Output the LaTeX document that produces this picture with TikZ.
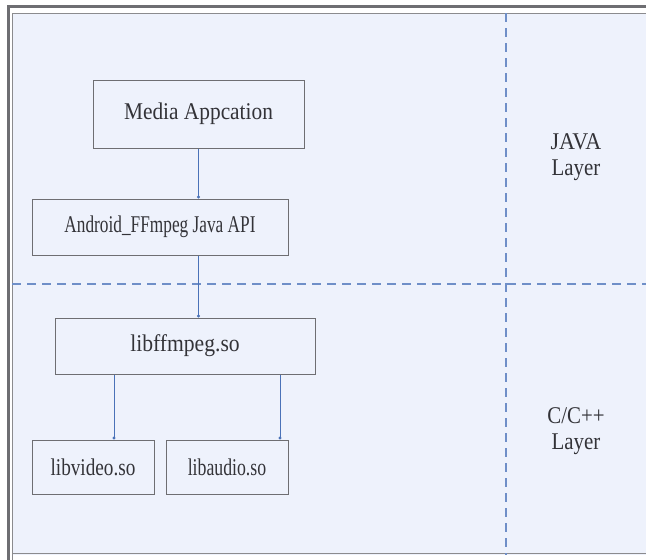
\documentclass[tikz,border=0pt]{standalone}
\usepackage{fontspec}
\usepackage{graphicx}
\setmainfont{Liberation Serif}
\usetikzlibrary{arrows.meta}
\definecolor{bgblue}{HTML}{EEF2FC}
\definecolor{framegray}{HTML}{6E6E72}
\definecolor{dashblue}{HTML}{6F8FC8}
\definecolor{arrowblue}{HTML}{4A72B8}
\definecolor{textgray}{HTML}{333338}
\newcommand{\sqx}[2]{\scalebox{#1}[1]{#2}}
\tikzset{
  box/.style={draw=framegray, line width=1pt, fill=bgblue, text=textgray, font=\fontsize{24}{26}\selectfont, inner sep=0pt},
  link/.style={draw=arrowblue, line width=0.9pt, -{Circle[length=3pt]}},
  divider/.style={draw=dashblue, line width=1.2pt, dash pattern=on 9pt off 6pt},
  layertext/.style={text=textgray, font=\fontsize{24}{26}\selectfont, align=center}
}
\begin{document}
\begin{tikzpicture}[x=1pt,y=-1pt]
\useasboundingbox (0,0) rectangle (646,560);
\fill[white] (0,0) rectangle (646,560);
\fill[bgblue] (12,13) rectangle (646,555);
% outer frame
\draw[framegray, line width=3pt] (8.5,565) -- (8.5,6.5) -- (650,6.5);
\draw[framegray!80, line width=0.8pt] (12,560) -- (12,13) -- (650,13);
\draw[framegray!80, line width=0.8pt] (12,553.5) -- (650,553.5);
% dividers
\draw[divider] (506,13) -- (506,555);
\draw[divider] (12,284) -- (646,284);
% boxes
\node[box, minimum width=211pt, minimum height=68pt] (app) at (198.5,114) {\sqx{0.89}{Media Appcation}};
\node[box, minimum width=256pt, minimum height=56pt] (api) at (160,227) {\sqx{0.72}{Android\_FFmpeg Java API}};
\node[box, minimum width=260pt, minimum height=56pt] (lib) at (185,346) {\sqx{0.9}{libffmpeg.so}};
\node[box, minimum width=122pt, minimum height=54pt] (vid) at (93,467) {\sqx{0.8}{libvideo.so}};
\node[box, minimum width=122pt, minimum height=54pt] (aud) at (227,467) {\sqx{0.74}{libaudio.so}};
% layer labels
\node[layertext] (java) at (576,157) {\sqx{0.92}{JAVA}\\\sqx{0.87}{Layer}};
\node[layertext] (cpp) at (576,431) {\sqx{0.87}{C/C++}\\\sqx{0.87}{Layer}};
% connectors
\draw[link] (app.south) -- (app.south |- api.north);
\draw[link] (app.south |- api.south) -- (app.south |- lib.north);
\draw[link] ([xshift=21pt]vid.north |- lib.south) -- ([xshift=21pt]vid.north);
\draw[link] ([xshift=53pt]aud.north |- lib.south) -- ([xshift=53pt]aud.north);
\end{tikzpicture}
\end{document}
